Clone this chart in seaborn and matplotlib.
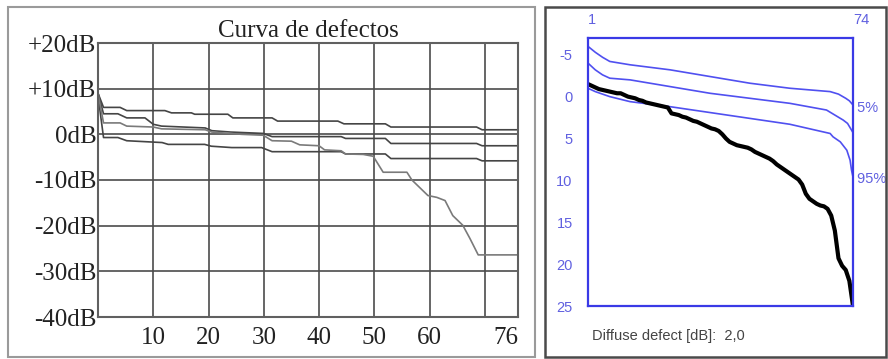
import matplotlib
matplotlib.use("Agg")
import matplotlib.pyplot as plt
import seaborn as sns
from matplotlib.patches import Rectangle

# ---------------- left panel: "Curva de defectos" ----------------
left_title = "Curva de defectos"
left_yticks = [-40, -30, -20, -10, 0, 10, 20]
left_ylabels = ["-40dB", "-30dB", "-20dB", "-10dB", "0dB", "+10dB", "+20dB"]
left_xticks = [10, 20, 30, 40, 50, 60, 70, 76]
left_xlabels = ["10", "20", "30", "40", "50", "60", "", "76"]

curve1_x = [0, 1, 4, 5.2, 12.1, 13.3, 16.9, 17.5, 23.5, 24.4, 31.5, 32.5, 43.4, 44.5, 52, 53, 68.5, 69.5, 76]
curve1_db = [9, 5.9, 5.9, 5.2, 5.2, 4.7, 4.7, 4.4, 4.4, 3.6, 3.6, 2.9, 2.9, 2.3, 2.3, 1.6, 1.6, 1.0, 1.0]

curve2_x = [0, 1, 3.6, 5.2, 8.5, 10, 11.5, 19.4, 20.6, 24, 29.9, 31.5, 44, 44.8, 52, 53, 68.5, 69.5, 76]
curve2_db = [9, 4.5, 4.5, 3.6, 3.6, 2.2, 1.8, 1.4, 0.8, 0.5, 0.2, -0.5, -0.5, -0.9, -0.9, -2.0, -2.0, -2.5, -2.5]

curve3_x = [0, 1, 3.6, 5.2, 11.6, 12.7, 19.3, 20.5, 24.2, 29.6, 31.5, 44, 44.8, 52, 53, 68.5, 69.5, 76]
curve3_db = [8.5, -0.7, -0.7, -1.4, -1.8, -2.2, -2.2, -2.6, -2.9, -2.9, -3.8, -3.8, -4.3, -4.3, -5.3, -5.3, -5.8, -5.8]

curve4_x = [0, 1, 4, 5.2, 10, 11.5, 19.4, 20.6, 26, 29.9, 31.5, 35, 36.5, 40, 41, 44, 44.8, 48, 49.8,
            51.6, 55.9, 56.8, 59.7, 61.3, 62.8, 64.2, 66, 67.3, 68.8, 76]
curve4_db = [9, 2.5, 2.5, 1.8, 1.6, 1.2, 1.0, 0.5, 0.0, -0.2, -1.4, -1.5, -2.3, -2.5, -3.4, -3.6, -4.3, -4.4, -4.8,
             -8.3, -8.3, -10.0, -13.4, -13.8, -14.5, -17.8, -19.9, -22.8, -26.4, -26.4]

# ---------------- right panel: Bebie curve ----------------
rank = list(range(1, 75))
defect_db = [-1.5, -1.3, -1.1, -0.9, -0.8, -0.7, -0.6, -0.5, -0.4, -0.4,
             -0.2, 0.0, 0.1, 0.2, 0.4, 0.5, 0.7, 0.8, 0.9, 1.0,
             1.1, 1.2, 1.3, 2.0, 2.1, 2.2, 2.4, 2.5, 2.7, 2.9,
             3.0, 3.2, 3.4, 3.6, 3.8, 3.9, 4.1, 4.5, 5.0, 5.4,
             5.6, 5.8, 5.9, 6.0, 6.1, 6.3, 6.6, 6.8, 7.0, 7.2,
             7.4, 7.7, 8.1, 8.4, 8.7, 9.0, 9.3, 9.6, 9.9, 10.5,
             11.6, 12.2, 12.5, 12.8, 13.0, 13.1, 13.4, 14.2, 16.0, 19.3,
             20.2, 20.7, 22.0, 25.0]

p5_x = [1, 3, 5, 7, 12.6, 23.6, 34.6, 45.6, 56.6, 67.7, 70, 72, 73, 74]
p5_db = [-6.0, -5.3, -4.7, -4.2, -3.8, -3.2, -2.4, -1.6, -1.0, -0.6, -0.3, 0.2, 0.5, 1.0]

p50_x = [1, 3, 5, 7, 12.6, 23.6, 34.6, 45.6, 56.6, 66.7, 71.3, 72.5, 73.6, 74]
p50_db = [-4.0, -3.2, -2.6, -2.2, -2.0, -1.2, -0.4, 0.2, 0.8, 1.6, 2.8, 3.2, 4.0, 4.3]

p95_x = [1, 3, 5, 7, 12.6, 23.6, 34.6, 45.6, 56.6, 67.7, 68.5, 70.5, 72.3, 73.2, 73.6, 74]
p95_db = [-1.0, -0.6, -0.3, 0.0, 0.6, 1.2, 1.9, 2.6, 3.3, 4.4, 4.8, 5.4, 6.4, 7.6, 8.8, 9.6]

right_yticks = [-5, 0, 5, 10, 15, 20, 25]
right_xticks = [1, 74]
diffuse_text = "Diffuse defect [dB]:  2,0"

# ---------------- styling ----------------
sns.set_style("white")
plt.rcParams["font.family"] = ["Liberation Sans", "DejaVu Sans"]

W, H = 888, 359
fig = plt.figure(figsize=(W / 100, H / 100), dpi=100)
fig.patch.set_facecolor("white")


def frac_box(x0, y0, x1, y1):
    return [x0 / W, 1 - y1 / H, (x1 - x0) / W, (y1 - y0) / H]


# panel frames
fig.patches.append(Rectangle((8 / W, 1 - 357 / H), (535 - 8) / W, (357 - 7) / H,
                             transform=fig.transFigure, fill=False, ec="#9a9a9a", lw=1.5))
fig.patches.append(Rectangle((545 / W, 1 - 357 / H), (886 - 545) / W, (357 - 7) / H,
                             transform=fig.transFigure, fill=False, ec="#4a4a4a", lw=1.8))

# ---- left axes ----
serif = ["Liberation Serif", "DejaVu Serif"]
ax1 = fig.add_axes(frac_box(98, 43, 518, 317))
grid_c = "#4c4c4c"
line_c = "#454545"
for xs, ys, col in [(curve1_x, curve1_db, line_c), (curve2_x, curve2_db, line_c),
                    (curve3_x, curve3_db, line_c), (curve4_x, curve4_db, "#7a7a7a")]:
    sns.lineplot(x=xs, y=ys, ax=ax1, color=col, lw=1.2, estimator=None, sort=False)
ax1.set_xlim(0, 76)
ax1.set_ylim(-40, 20)
ax1.set_yticks(left_yticks)
ax1.set_yticklabels(left_ylabels)
ax1.set_xticks(left_xticks)
ax1.set_xticklabels(left_xlabels)
for lab in ax1.get_xticklabels():
    if lab.get_text() == "76":
        lab.set_ha("right")
ax1.grid(True, color=grid_c, lw=1.2)
ax1.set_axisbelow(True)
ax1.tick_params(length=0, pad=1, labelsize=18, labelcolor="#222222")
ax1.tick_params(axis="x", pad=7)
for lab in ax1.get_xticklabels() + ax1.get_yticklabels():
    lab.set_family(serif)
for s in ax1.spines.values():
    s.set_color("#606060")
    s.set_linewidth(1.5)
ax1.set_title(left_title, fontsize=18, family=serif, color="#222222", pad=4)
ax1.set_xlabel("")
ax1.set_ylabel("")

# ---- right axes ----
blue = "#3a3ae6"
blue_txt = "#6060e0"
ax2 = fig.add_axes(frac_box(588, 38, 853, 306))
for xs, ys in [(p5_x, p5_db), (p50_x, p50_db), (p95_x, p95_db)]:
    sns.lineplot(x=xs, y=ys, ax=ax2, color="#5050f0", lw=1.2, estimator=None, sort=False)
sns.lineplot(x=rank, y=defect_db, ax=ax2, color="black", lw=3.0, estimator=None, sort=False)
ax2.set_xlim(1, 74)
ax2.set_ylim(25, -7)
ax2.set_yticks(right_yticks)
ax2.set_yticklabels([str(v) for v in right_yticks])
ax2.xaxis.tick_top()
ax2.set_xticks(right_xticks)
ax2.set_xticklabels([str(v) for v in right_xticks])
for lab in ax2.get_xticklabels():
    lab.set_ha("left")
ax2.tick_params(axis="y", length=6, width=2, color=blue, pad=5, labelsize=10.5, labelcolor=blue_txt)
ax2.tick_params(axis="x", length=0, pad=8, labelsize=10.5, labelcolor=blue_txt)
for s in ax2.spines.values():
    s.set_color(blue)
    s.set_linewidth(1.6)
ax2.set_xlabel("")
ax2.set_ylabel("")
ax2.text(74.0, p5_db[-1] + 0.3, " 5%", color=blue_txt, fontsize=10.5, ha="left", va="center",
         clip_on=False)
ax2.text(74.0, p95_db[-1] + 0.2, " 95%", color=blue_txt, fontsize=10.5, ha="left", va="center",
         clip_on=False)
fig.text(592 / W, 1 - 336 / H, diffuse_text, fontsize=10.5, color="#444444", ha="left", va="center")

fig.savefig("out.png", dpi=100, facecolor="white")
